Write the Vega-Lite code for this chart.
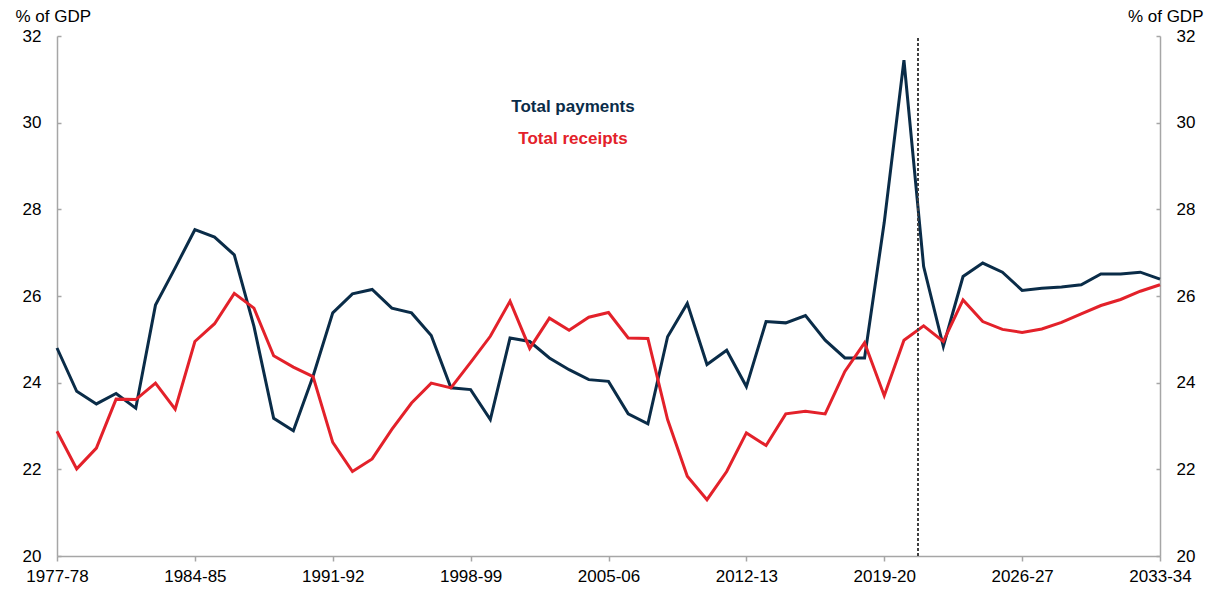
{
  "$schema": "https://vega.github.io/schema/vega-lite/v6.json",
  "width": 1103,
  "height": 520,
  "autosize": {"type": "none"},
  "padding": {"left": 57, "top": 36, "right": 52, "bottom": 33},
  "background": "white",
  "config": {
    "view": {"stroke": null},
    "font": "Liberation Sans",
    "axis": {
      "grid": false,
      "domainColor": "#a6a6a6",
      "tickColor": "#a6a6a6",
      "domainWidth": 1.5,
      "tickWidth": 1.5,
      "labelColor": "#000000",
      "labelFont": "Liberation Sans",
      "labelFontSize": 17,
      "titleFont": "Liberation Sans",
      "titleFontSize": 17,
      "titleFontWeight": "normal",
      "titleColor": "#000000"
    }
  },
  "data": {
    "values": [
      {"year": 1977, "series": "Total payments", "value": 24.80},
      {"year": 1978, "series": "Total payments", "value": 23.80},
      {"year": 1979, "series": "Total payments", "value": 23.51},
      {"year": 1980, "series": "Total payments", "value": 23.75},
      {"year": 1981, "series": "Total payments", "value": 23.41},
      {"year": 1982, "series": "Total payments", "value": 25.79},
      {"year": 1983, "series": "Total payments", "value": 26.65},
      {"year": 1984, "series": "Total payments", "value": 27.53},
      {"year": 1985, "series": "Total payments", "value": 27.36},
      {"year": 1986, "series": "Total payments", "value": 26.95},
      {"year": 1987, "series": "Total payments", "value": 25.30},
      {"year": 1988, "series": "Total payments", "value": 23.18},
      {"year": 1989, "series": "Total payments", "value": 22.89},
      {"year": 1990, "series": "Total payments", "value": 24.15},
      {"year": 1991, "series": "Total payments", "value": 25.61},
      {"year": 1992, "series": "Total payments", "value": 26.05},
      {"year": 1993, "series": "Total payments", "value": 26.15},
      {"year": 1994, "series": "Total payments", "value": 25.72},
      {"year": 1995, "series": "Total payments", "value": 25.61},
      {"year": 1996, "series": "Total payments", "value": 25.09},
      {"year": 1997, "series": "Total payments", "value": 23.88},
      {"year": 1998, "series": "Total payments", "value": 23.84},
      {"year": 1999, "series": "Total payments", "value": 23.15},
      {"year": 2000, "series": "Total payments", "value": 25.03},
      {"year": 2001, "series": "Total payments", "value": 24.95},
      {"year": 2002, "series": "Total payments", "value": 24.57},
      {"year": 2003, "series": "Total payments", "value": 24.30},
      {"year": 2004, "series": "Total payments", "value": 24.07},
      {"year": 2005, "series": "Total payments", "value": 24.03},
      {"year": 2006, "series": "Total payments", "value": 23.28},
      {"year": 2007, "series": "Total payments", "value": 23.05},
      {"year": 2008, "series": "Total payments", "value": 25.06},
      {"year": 2009, "series": "Total payments", "value": 25.83},
      {"year": 2010, "series": "Total payments", "value": 24.42},
      {"year": 2011, "series": "Total payments", "value": 24.75},
      {"year": 2012, "series": "Total payments", "value": 23.91},
      {"year": 2013, "series": "Total payments", "value": 25.41},
      {"year": 2014, "series": "Total payments", "value": 25.38},
      {"year": 2015, "series": "Total payments", "value": 25.55},
      {"year": 2016, "series": "Total payments", "value": 24.98},
      {"year": 2017, "series": "Total payments", "value": 24.57},
      {"year": 2018, "series": "Total payments", "value": 24.57},
      {"year": 2019, "series": "Total payments", "value": 27.70},
      {"year": 2020, "series": "Total payments", "value": 31.44},
      {"year": 2021, "series": "Total payments", "value": 26.68},
      {"year": 2022, "series": "Total payments", "value": 24.84},
      {"year": 2023, "series": "Total payments", "value": 26.45},
      {"year": 2024, "series": "Total payments", "value": 26.76},
      {"year": 2025, "series": "Total payments", "value": 26.55},
      {"year": 2026, "series": "Total payments", "value": 26.13},
      {"year": 2027, "series": "Total payments", "value": 26.18},
      {"year": 2028, "series": "Total payments", "value": 26.21},
      {"year": 2029, "series": "Total payments", "value": 26.26},
      {"year": 2030, "series": "Total payments", "value": 26.51},
      {"year": 2031, "series": "Total payments", "value": 26.51},
      {"year": 2032, "series": "Total payments", "value": 26.55},
      {"year": 2033, "series": "Total payments", "value": 26.39},
      {"year": 1977, "series": "Total receipts", "value": 22.88},
      {"year": 1978, "series": "Total receipts", "value": 22.01},
      {"year": 1979, "series": "Total receipts", "value": 22.49},
      {"year": 1980, "series": "Total receipts", "value": 23.62},
      {"year": 1981, "series": "Total receipts", "value": 23.61},
      {"year": 1982, "series": "Total receipts", "value": 23.99},
      {"year": 1983, "series": "Total receipts", "value": 23.39},
      {"year": 1984, "series": "Total receipts", "value": 24.95},
      {"year": 1985, "series": "Total receipts", "value": 25.36},
      {"year": 1986, "series": "Total receipts", "value": 26.06},
      {"year": 1987, "series": "Total receipts", "value": 25.72},
      {"year": 1988, "series": "Total receipts", "value": 24.62},
      {"year": 1989, "series": "Total receipts", "value": 24.36},
      {"year": 1990, "series": "Total receipts", "value": 24.14},
      {"year": 1991, "series": "Total receipts", "value": 22.62},
      {"year": 1992, "series": "Total receipts", "value": 21.95},
      {"year": 1993, "series": "Total receipts", "value": 22.24},
      {"year": 1994, "series": "Total receipts", "value": 22.92},
      {"year": 1995, "series": "Total receipts", "value": 23.53},
      {"year": 1996, "series": "Total receipts", "value": 23.99},
      {"year": 1997, "series": "Total receipts", "value": 23.88},
      {"year": 1998, "series": "Total receipts", "value": 24.47},
      {"year": 1999, "series": "Total receipts", "value": 25.07},
      {"year": 2000, "series": "Total receipts", "value": 25.88},
      {"year": 2001, "series": "Total receipts", "value": 24.79},
      {"year": 2002, "series": "Total receipts", "value": 25.49},
      {"year": 2003, "series": "Total receipts", "value": 25.21},
      {"year": 2004, "series": "Total receipts", "value": 25.51},
      {"year": 2005, "series": "Total receipts", "value": 25.62},
      {"year": 2006, "series": "Total receipts", "value": 25.03},
      {"year": 2007, "series": "Total receipts", "value": 25.02},
      {"year": 2008, "series": "Total receipts", "value": 23.15},
      {"year": 2009, "series": "Total receipts", "value": 21.84},
      {"year": 2010, "series": "Total receipts", "value": 21.30},
      {"year": 2011, "series": "Total receipts", "value": 21.95},
      {"year": 2012, "series": "Total receipts", "value": 22.84},
      {"year": 2013, "series": "Total receipts", "value": 22.55},
      {"year": 2014, "series": "Total receipts", "value": 23.28},
      {"year": 2015, "series": "Total receipts", "value": 23.34},
      {"year": 2016, "series": "Total receipts", "value": 23.28},
      {"year": 2017, "series": "Total receipts", "value": 24.26},
      {"year": 2018, "series": "Total receipts", "value": 24.92},
      {"year": 2019, "series": "Total receipts", "value": 23.70},
      {"year": 2020, "series": "Total receipts", "value": 24.98},
      {"year": 2021, "series": "Total receipts", "value": 25.31},
      {"year": 2022, "series": "Total receipts", "value": 24.95},
      {"year": 2023, "series": "Total receipts", "value": 25.91},
      {"year": 2024, "series": "Total receipts", "value": 25.41},
      {"year": 2025, "series": "Total receipts", "value": 25.23},
      {"year": 2026, "series": "Total receipts", "value": 25.16},
      {"year": 2027, "series": "Total receipts", "value": 25.24},
      {"year": 2028, "series": "Total receipts", "value": 25.39},
      {"year": 2029, "series": "Total receipts", "value": 25.59},
      {"year": 2030, "series": "Total receipts", "value": 25.78},
      {"year": 2031, "series": "Total receipts", "value": 25.92},
      {"year": 2032, "series": "Total receipts", "value": 26.11},
      {"year": 2033, "series": "Total receipts", "value": 26.26}
    ]
  },
  "layer": [
    {
      "mark": {"type": "line", "strokeWidth": 3, "strokeJoin": "miter"},
      "encoding": {
        "x": {
          "field": "year",
          "type": "quantitative",
          "scale": {"domain": [1977, 2033], "nice": false, "zero": false},
          "axis": {
            "title": null,
            "values": [1977, 1984, 1991, 1998, 2005, 2012, 2019, 2026, 2033],
            "labelExpr": "datum.value + '-' + substring(toString(datum.value + 1), 2)",
            "tickSize": 5,
            "labelPadding": 7,
            "labelFlush": false,
            "labelOverlap": false
          }
        },
        "y": {
          "field": "value",
          "type": "quantitative",
          "scale": {"domain": [20, 32], "nice": false, "zero": false},
          "axis": {
            "orient": "left",
            "values": [20, 22, 24, 26, 28, 30, 32],
            "tickSize": -4,
            "labelPadding": 20,
            "title": "% of GDP",
            "titleAngle": 0,
            "titleAlign": "left",
            "titleBaseline": "alphabetic",
            "titleX": -42,
            "titleY": -15
          }
        },
        "color": {
          "field": "series",
          "type": "nominal",
          "scale": {"domain": ["Total payments", "Total receipts"], "range": ["#0a2c48", "#e3212a"]},
          "legend": {
            "orient": "none",
            "legendX": 499,
            "legendY": 62,
            "title": null,
            "symbolOpacity": 0,
            "symbolSize": 0,
            "symbolStrokeWidth": 0,
            "labelFont": "Liberation Sans",
            "labelFontSize": 17,
            "labelFontWeight": "bold",
            "labelAlign": "center",
            "labelOffset": 0,
            "rowPadding": 14,
            "encode": {
              "labels": {
                "update": {
                  "fill": {"signal": "datum.value === 'Total payments' ? '#0a2c48' : '#e3212a'"}
                }
              }
            }
          }
        }
      }
    },
    {
      "mark": {"type": "rule", "color": "#404040", "strokeWidth": 1, "strokeDash": [3, 2]},
      "encoding": {
        "x": {"datum": 2020.7, "type": "quantitative"},
        "y": {
          "datum": 20,
          "type": "quantitative",
          "axis": {
            "orient": "right",
            "values": [20, 22, 24, 26, 28, 30, 32],
            "tickSize": -4,
            "labelPadding": 20,
            "title": "% of GDP",
            "titleAngle": 0,
            "titleAlign": "right",
            "titleBaseline": "alphabetic",
            "titleX": 43,
            "titleY": -15
          }
        },
        "y2": {"datum": 32}
      }
    }
  ],
  "resolve": {"axis": {"y": "independent"}}
}
